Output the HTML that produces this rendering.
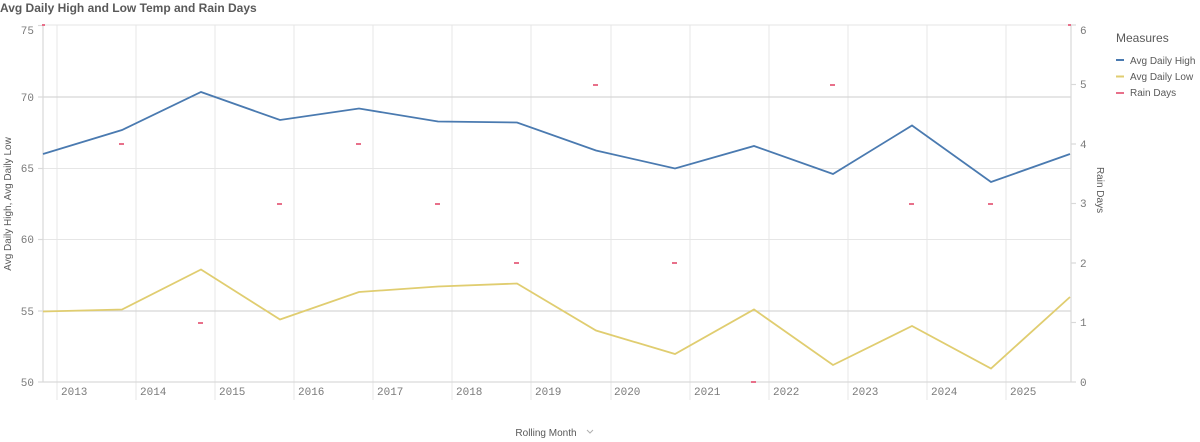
<!DOCTYPE html>
<html><head><meta charset="utf-8"><style>
body{margin:0;background:#fff;}
svg{display:block;font-family:"Liberation Sans",sans-serif;}
</style></head><body>
<svg width="1200" height="442" viewBox="0 0 1200 442" xmlns="http://www.w3.org/2000/svg">
<text x="0" y="12" font-size="12" font-weight="bold" fill="#595959">Avg Daily High and Low Temp and Rain Days</text>
<!-- vertical gridlines -->
<g stroke="#ebebeb" stroke-width="1.2">
<line x1="57" y1="25" x2="57" y2="400"/><line x1="136" y1="25" x2="136" y2="400"/><line x1="215" y1="25" x2="215" y2="400"/><line x1="294" y1="25" x2="294" y2="400"/><line x1="373" y1="25" x2="373" y2="400"/><line x1="452" y1="25" x2="452" y2="400"/><line x1="531" y1="25" x2="531" y2="400"/><line x1="611" y1="25" x2="611" y2="400"/><line x1="690" y1="25" x2="690" y2="400"/><line x1="769" y1="25" x2="769" y2="400"/><line x1="848" y1="25" x2="848" y2="400"/><line x1="927" y1="25" x2="927" y2="400"/><line x1="1006" y1="25" x2="1006" y2="400"/>
</g>
<!-- horizontal gridlines -->
<g stroke="#e6e6e6" stroke-width="1">
<line x1="43" y1="25" x2="1071" y2="25"/><line x1="43" y1="168.5" x2="1071" y2="168.5"/><line x1="43" y1="239.5" x2="1071" y2="239.5"/>
</g>
<g stroke="#d6d6d6" stroke-width="1.2">
<line x1="43" y1="97" x2="1071" y2="97"/><line x1="43" y1="311" x2="1071" y2="311"/>
</g>
<!-- axes -->
<g stroke="#d9d9d9" stroke-width="1.2">
<line x1="43" y1="25" x2="43" y2="382"/><line x1="1071" y1="25" x2="1071" y2="382"/><line x1="43" y1="382" x2="1071" y2="382"/>
<line x1="38" y1="25.5" x2="43" y2="25.5"/><line x1="38" y1="97" x2="43" y2="97"/><line x1="38" y1="168.5" x2="43" y2="168.5"/><line x1="38" y1="239.5" x2="43" y2="239.5"/><line x1="38" y1="311" x2="43" y2="311"/><line x1="38" y1="382" x2="43" y2="382"/>
<line x1="1071" y1="25" x2="1076" y2="25"/><line x1="1071" y1="84.5" x2="1076" y2="84.5"/><line x1="1071" y1="144" x2="1076" y2="144"/><line x1="1071" y1="203.5" x2="1076" y2="203.5"/><line x1="1071" y1="263" x2="1076" y2="263"/><line x1="1071" y1="322.5" x2="1076" y2="322.5"/><line x1="1071" y1="382" x2="1076" y2="382"/>
</g>
<g font-size="11" fill="#7a7a7a" text-anchor="end" font-family="Liberation Mono,monospace">
<text x="34" y="34">75</text><text x="34" y="101">70</text><text x="34" y="172">65</text><text x="34" y="243">60</text><text x="34" y="315">55</text><text x="34" y="386">50</text>
</g>
<g font-size="11" fill="#7a7a7a" font-family="Liberation Mono,monospace">
<text x="1080" y="34">6</text><text x="1080" y="88">5</text><text x="1080" y="148">4</text><text x="1080" y="207">3</text><text x="1080" y="267">2</text><text x="1080" y="326">1</text><text x="1080" y="386">0</text>
</g>
<g font-size="11" fill="#7a7a7a" font-family="Liberation Mono,monospace">
<text x="61" y="395">2013</text><text x="140" y="395">2014</text><text x="219" y="395">2015</text><text x="298" y="395">2016</text><text x="377" y="395">2017</text><text x="456" y="395">2018</text><text x="535" y="395">2019</text><text x="614" y="395">2020</text><text x="694" y="395">2021</text><text x="773" y="395">2022</text><text x="852" y="395">2023</text><text x="931" y="395">2024</text><text x="1010" y="395">2025</text>
</g>
<text transform="translate(11,204) rotate(-90)" font-size="10" fill="#595959" text-anchor="middle">Avg Daily High, Avg Daily Low</text>
<text transform="translate(1097,190) rotate(90)" font-size="10" fill="#595959" text-anchor="middle">Rain Days</text>
<text x="546" y="436" font-size="10" fill="#595959" text-anchor="middle">Rolling Month</text>
<path d="M587,430 l3,3 l3,-3" fill="none" stroke="#b0b0b0" stroke-width="1"/>
<!-- series -->
<polyline fill="none" stroke="#4a7ab0" stroke-width="1.8" points="43,154 122,130 201,92 280,120 359,108.5 438,121.5 517,122.5 596,150.5 675,168.5 754,146 833,174 912,125.5 991,182 1070,154"/>
<polyline fill="none" stroke="#e0cd70" stroke-width="1.8" points="43,311.5 122,309.5 201,269.5 280,319.5 359,292 438,286.5 517,283.5 596,330.5 675,354 754,309.5 833,365 912,326 991,368.5 1070,297"/>
<g fill="#e8708a">
<rect x="42" y="24" width="3" height="2"/><rect x="119" y="143" width="5" height="2"/><rect x="198" y="322" width="5" height="2"/><rect x="277" y="203" width="5" height="2"/><rect x="356" y="143" width="5" height="2"/><rect x="435" y="203" width="5" height="2"/><rect x="514" y="262" width="5" height="2"/><rect x="593" y="84" width="5" height="2"/><rect x="672" y="262" width="5" height="2"/><rect x="751" y="381" width="5" height="2"/><rect x="830" y="84" width="5" height="2"/><rect x="909" y="203" width="5" height="2"/><rect x="988" y="203" width="5" height="2"/><rect x="1068" y="24" width="3" height="2"/>
</g>
<!-- legend -->
<text x="1116" y="42" font-size="12" fill="#595959">Measures</text>
<rect x="1116" y="59" width="8" height="2" fill="#4a7ab0"/><text x="1130" y="64" font-size="10" fill="#595959">Avg Daily High</text>
<rect x="1116" y="75.5" width="8" height="2" fill="#e0cd70"/><text x="1130" y="80" font-size="10" fill="#595959">Avg Daily Low</text>
<rect x="1116" y="92" width="8" height="2" fill="#e8708a"/><text x="1130" y="96" font-size="10" fill="#595959">Rain Days</text>
</svg>
</body></html>
